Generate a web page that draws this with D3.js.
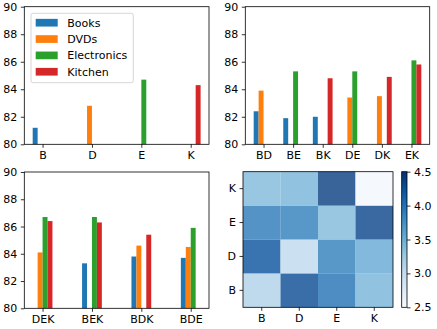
<!DOCTYPE html>
<html><head><meta charset="utf-8">
<script src="https://cdn.jsdelivr.net/npm/d3@7/dist/d3.min.js"></script>
<style>
body{margin:0;background:#fff;}
text{font-family:"DejaVu Sans",sans-serif;font-size:11px;fill:#000;}
</style></head>
<body><svg id="c" width="437" height="329"></svg>
<script>
const seriesNames = ["Books","DVDs","Electronics","Kitchen"];
const seriesColors = ["#1f77b4","#ff7f0e","#2ca02c","#d62728"];
const yTicks = [80,82,84,86,88,90];

const cats1 = ["B","D","E","K"];
const books1 = [81.2,null,null,null];
const dvds1 = [null,82.8,null,null];
const elec1 = [null,null,84.7,null];
const kitchen1 = [null,null,null,84.3];

const cats2 = ["BD","BE","BK","DE","DK","EK"];
const books2 = [82.4,81.9,82.0,null,null,null];
const dvds2 = [83.9,null,null,83.4,83.5,null];
const elec2 = [null,85.3,null,85.3,null,86.1];
const kitchen2 = [null,null,84.8,null,84.9,85.8];

const cats3 = ["DEK","BEK","BDK","BDE"];
const books3 = [null,83.3,83.8,83.7];
const dvds3 = [84.1,null,84.6,84.5];
const elec3 = [86.7,86.7,null,85.9];
const kitchen3 = [86.4,86.3,85.4,null];

const heatRows = ["B","D","E","K"];
const heatCols = ["B","D","E","K"];
const heatB = [3.15,4.3,4.0,3.45];
const heatD = [4.25,3.05,3.9,3.55];
const heatE = [3.95,3.9,3.4,4.35];
const heatK = [3.4,3.45,4.4,2.55];
const cbarTicks = [2.5,3.0,3.5,4.0,4.5];

const svg = d3.select("#c");
const TS = 3.5, TP = 3.5, FS = 11;

function styleAxis(g){
  g.select(".domain").remove();
  g.selectAll(".tick line").attr("stroke","#000").attr("stroke-width",0.8);
  g.selectAll(".tick text").attr("font-family","DejaVu Sans").attr("font-size",FS).attr("fill","#000");
}
function frame(box){
  svg.append("rect").attr("x",box.l).attr("y",box.t).attr("width",box.r-box.l).attr("height",box.b-box.t)
    .attr("fill","none").attr("stroke","#000").attr("stroke-width",0.8);
}

function barChart(box, cats, seriesVals, w, legend){
  const n = cats.length;
  const dmin = -2*w, dmax = n-1+2*w, pad = 0.05*(dmax-dmin);
  const x = d3.scaleLinear().domain([dmin-pad, dmax+pad]).range([box.l, box.r]);
  const y = d3.scaleLinear().domain([80,90]).range([box.b, box.t]);
  const g = svg.append("g");
  seriesVals.forEach((vals, i) => {
    g.selectAll(null).data(vals.map((v,j)=>({v,j})).filter(d=>d.v!=null)).enter().append("rect")
      .attr("x", d => x(d.j + (i-2)*w))
      .attr("width", x(w)-x(0))
      .attr("y", d => y(d.v))
      .attr("height", d => y(80)-y(d.v))
      .attr("fill", seriesColors[i]);
  });
  const ax = svg.append("g").attr("transform",`translate(0,${box.b})`)
    .call(d3.axisBottom(x).tickValues(d3.range(n)).tickFormat(i=>cats[i]).tickSize(TS).tickPadding(TP));
  styleAxis(ax);
  const ay = svg.append("g").attr("transform",`translate(${box.l},0)`)
    .call(d3.axisLeft(y).tickValues(yTicks).tickFormat(d3.format("d")).tickSize(TS).tickPadding(TP));
  styleAxis(ay);
  frame(box);
  if(legend){
    const lg = svg.append("g");
    lg.append("rect").attr("x",31).attr("y",13.3).attr("width",102.3).attr("height",69.4)
      .attr("rx",2).attr("fill","#fff").attr("fill-opacity",0.8).attr("stroke","#ccc").attr("stroke-width",0.8);
    seriesNames.forEach((s,i)=>{
      const cy = 22.7 + i*16.35;
      lg.append("rect").attr("x",35.7).attr("y",cy-3.85).attr("width",22).attr("height",7.7).attr("fill",seriesColors[i]);
      lg.append("text").attr("x",67.3).attr("y",cy).attr("dy","0.35em").text(s);
    });
  }
}

barChart({l:24.3,r:209,t:6.7,b:144.3}, cats1, [books1,dvds1,elec1,kitchen1], 0.1, true);
barChart({l:245.3,r:429.7,t:6.7,b:144.3}, cats2, [books2,dvds2,elec2,kitchen2], 1/6, false);
barChart({l:24.3,r:209,t:172,b:308.3}, cats3, [books3,dvds3,elec3,kitchen3], 0.1, false);

// heatmap
const hb = {l:243,r:393,t:171.7,b:307.3};
const blues = ["#f7fbff","#deebf7","#c6dbef","#9ecae1","#6baed6","#4292c6","#2171b5","#08519c","#08306b"];
const cmap = d3.scaleLinear().domain(d3.range(9).map(i=>2.5+i*2/8)).range(blues).interpolate(d3.interpolateRgb).clamp(true);
const hx = d3.scaleBand().domain(heatCols).range([hb.l,hb.r]).padding(0);
const hy = d3.scaleBand().domain(heatRows).range([hb.b,hb.t]).padding(0);
const heatData = [heatB,heatD,heatE,heatK];
const cells = [];
heatData.forEach((row,ri)=>row.forEach((v,ci)=>cells.push({r:heatRows[ri],c:heatCols[ci],v})));
svg.append("g").selectAll("rect").data(cells).enter().append("rect")
  .attr("x",d=>hx(d.c)).attr("y",d=>hy(d.r)).attr("width",hx.bandwidth()).attr("height",hy.bandwidth())
  .attr("fill",d=>cmap(d.v)).attr("fill-opacity",0.8);
const hax = svg.append("g").attr("transform",`translate(0,${hb.b})`)
  .call(d3.axisBottom(hx).tickSize(TS).tickPadding(TP));
styleAxis(hax);
const hay = svg.append("g").attr("transform",`translate(${hb.l},0)`)
  .call(d3.axisLeft(hy).tickSize(TS).tickPadding(TP));
styleAxis(hay);
frame(hb);

// colorbar
const cb = {l:401.7,r:407,t:171.7,b:307.3};
const defs = svg.append("defs");
const grad = defs.append("linearGradient").attr("id","cbg").attr("x1",0).attr("y1",1).attr("x2",0).attr("y2",0);
blues.forEach((c,i)=>grad.append("stop").attr("offset",i/8).attr("stop-color",c));
svg.append("rect").attr("x",cb.l).attr("y",cb.t).attr("width",cb.r-cb.l).attr("height",cb.b-cb.t).attr("fill","url(#cbg)");
const cy = d3.scaleLinear().domain([2.5,4.5]).range([cb.b,cb.t]);
const cax = svg.append("g").attr("transform",`translate(${cb.r},0)`)
  .call(d3.axisRight(cy).tickValues(cbarTicks).tickFormat(d3.format(".1f")).tickSize(TS).tickPadding(TP));
styleAxis(cax);
frame(cb);
</script></body></html>
